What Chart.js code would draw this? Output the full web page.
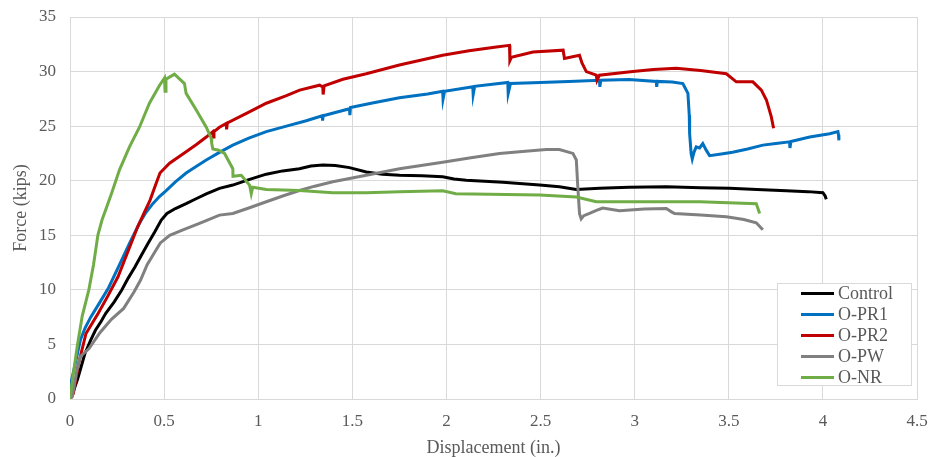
<!DOCTYPE html>
<html>
<head>
<meta charset="utf-8">
<script src="https://cdn.jsdelivr.net/npm/chart.js@4.4.1/dist/chart.umd.min.js"></script>
<style>
  body { margin: 0; background: #fff; }
  #wrap { position: relative; width: 930px; height: 457px; }
  #legend {
    position: absolute; left: 777px; top: 283px; width: 135px; height: 103px;
    border: 1px solid #d9d9d9; background: #fff; box-sizing: border-box;
    font-family: "Liberation Serif", "Times New Roman", serif; font-size: 18px; color: #595959;
  }
  #legend .row { display: flex; align-items: center; height: 21px; }
  #legend .row:first-child { margin-top: -1px; }
  #legend .swatch { width: 33px; height: 3px; margin-left: 23px; margin-right: 4px; }
</style>
</head>
<body>
<div id="wrap">
  <canvas id="chart" width="930" height="457"></canvas>
  <div id="legend"></div>
</div>
<script>
/* Force vs displacement curves */

const seriesNames = ['Control', 'O-PR1', 'O-PR2', 'O-PW', 'O-NR'];
const seriesColors = ['#000000', '#0070C0', '#C00000', '#808080', '#70AD47'];
const xTicks = [0, 0.5, 1, 1.5, 2, 2.5, 3, 3.5, 4, 4.5];
const yTicks = [0, 5, 10, 15, 20, 25, 30, 35];

// [displacement (in.), force (kips)]
const controlPts = [
  [0, 0], [0.02, 0.8], [0.04, 1.8], [0.06, 3.0], [0.08, 4.2], [0.11, 5.4], [0.135, 6.3], [0.165, 7.1],
  [0.19, 7.85], [0.235, 8.9], [0.275, 9.98], [0.31, 11.1], [0.345, 12.1], [0.38, 13.2], [0.415, 14.26],
  [0.45, 15.3], [0.485, 16.4], [0.515, 17.0], [0.56, 17.45], [0.617, 17.9], [0.67, 18.35], [0.724, 18.8],
  [0.794, 19.3], [0.865, 19.6], [0.95, 20.1], [1.043, 20.6], [1.13, 20.9], [1.219, 21.1], [1.28, 21.35],
  [1.343, 21.45], [1.41, 21.4], [1.485, 21.2], [1.574, 20.8], [1.66, 20.6], [1.751, 20.5], [1.87, 20.45],
  [1.98, 20.36], [2.04, 20.15], [2.105, 20.05], [2.3, 19.85], [2.495, 19.6], [2.6, 19.45], [2.69, 19.2],
  [2.813, 19.3], [2.97, 19.4], [3.168, 19.45], [3.35, 19.35], [3.504, 19.3], [3.65, 19.2], [3.806, 19.07],
  [3.92, 19.0], [4.0, 18.9], [4.012, 18.6], [4.018, 18.3]
];

const pr1Pts = [
  [0, 0], [0.008, 1.7], [0.025, 3.0], [0.055, 5.4], [0.08, 6.5], [0.11, 7.5], [0.16, 8.9], [0.205, 10.2],
  [0.26, 12.2], [0.316, 14.26], [0.369, 16.1], [0.4, 17.0], [0.44, 17.9], [0.475, 18.55], [0.511, 19.1],
  [0.56, 19.9], [0.617, 20.7], [0.67, 21.3], [0.724, 21.9], [0.794, 22.6], [0.865, 23.26], [0.95, 23.9],
  [1.043, 24.5], [1.15, 25.0], [1.255, 25.5], [1.34, 25.95], [1.342, 25.5], [1.345, 25.95], [1.485, 26.6],
  [1.487, 26.0], [1.49, 26.7], [1.6, 27.1], [1.75, 27.6], [1.9, 27.95], [1.98, 28.2], [1.982, 27.5],
  [1.99, 28.2], [2.14, 28.6], [2.142, 27.9], [2.15, 28.65], [2.326, 29.0], [2.328, 28.0], [2.34, 28.9],
  [2.46, 28.97], [2.65, 29.1], [2.813, 29.2], [2.815, 28.6], [2.82, 29.2], [2.97, 29.27], [3.115, 29.1],
  [3.117, 28.6], [3.12, 29.1], [3.2, 29.05], [3.256, 28.9], [3.283, 28.0], [3.29, 26.0], [3.292, 24.3],
  [3.3, 22.5], [3.306, 22.0], [3.315, 22.6], [3.327, 23.1], [3.345, 23.0], [3.362, 23.4], [3.38, 22.8],
  [3.398, 22.3], [3.46, 22.45], [3.52, 22.6], [3.6, 22.9], [3.681, 23.26], [3.75, 23.4], [3.823, 23.56],
  [3.825, 23.0], [3.83, 23.6], [3.93, 24.0], [4.036, 24.3], [4.08, 24.5], [4.083, 24.2], [4.085, 23.7]
];

const pr2Pts = [
  [0, 0], [0.018, 0.5], [0.045, 3.2], [0.085, 6.0], [0.15, 7.85], [0.2, 9.4], [0.255, 11.2], [0.31, 13.6],
  [0.36, 15.8], [0.395, 17.1], [0.425, 18.2], [0.452, 19.5], [0.478, 20.7], [0.529, 21.6], [0.617, 22.65],
  [0.67, 23.3], [0.724, 24.0], [0.759, 24.5], [0.762, 24.0], [0.765, 24.5], [0.794, 24.9], [0.83, 25.25],
  [0.832, 24.7], [0.836, 25.3], [0.94, 26.2], [1.043, 27.1], [1.15, 27.8], [1.22, 28.3], [1.326, 28.75],
  [1.343, 28.6], [1.345, 27.9], [1.35, 28.7], [1.45, 29.3], [1.574, 29.8], [1.75, 30.6], [1.98, 31.5],
  [2.12, 31.9], [2.265, 32.26], [2.335, 32.4], [2.337, 31.0], [2.345, 31.3], [2.46, 31.8], [2.62, 31.96],
  [2.627, 31.2], [2.707, 31.5], [2.72, 30.8], [2.743, 30.0], [2.796, 29.67], [2.8, 29.2], [2.813, 29.67],
  [2.99, 30.0], [3.1, 30.2], [3.221, 30.3], [3.35, 30.1], [3.487, 29.8], [3.54, 29.06], [3.628, 29.06],
  [3.673, 28.3], [3.7, 27.4], [3.726, 25.85], [3.738, 24.8]
];

const pwPts = [
  [0, 0], [0.012, 0.2], [0.035, 2.5], [0.055, 3.9], [0.1, 4.6], [0.16, 6.1], [0.22, 7.3], [0.285, 8.3],
  [0.34, 9.8], [0.375, 10.9], [0.41, 12.3], [0.445, 13.3], [0.48, 14.3], [0.53, 15.0], [0.6, 15.5],
  [0.688, 16.1], [0.794, 16.85], [0.865, 17.0], [0.95, 17.5], [1.043, 18.07], [1.13, 18.6], [1.219, 19.1],
  [1.3, 19.5], [1.396, 19.9], [1.574, 20.5], [1.751, 21.1], [1.98, 21.7], [2.13, 22.1], [2.282, 22.5],
  [2.388, 22.65], [2.53, 22.87], [2.6, 22.85], [2.672, 22.5], [2.69, 21.9], [2.698, 19.4], [2.707, 17.0],
  [2.716, 16.5], [2.73, 16.8], [2.76, 17.0], [2.8, 17.3], [2.83, 17.5], [2.92, 17.25], [3.05, 17.4],
  [3.168, 17.46], [3.2, 17.1], [3.212, 17.0], [3.35, 16.85], [3.487, 16.7], [3.58, 16.45], [3.646, 16.15],
  [3.681, 15.5]
];

const nrPts = [
  [0, 0], [0.015, 2.0], [0.04, 5.0], [0.065, 7.6], [0.1, 10.0], [0.125, 12.3], [0.148, 15.0], [0.17, 16.4],
  [0.195, 17.6], [0.222, 18.9], [0.263, 21.0], [0.316, 23.1], [0.369, 24.9], [0.422, 27.1], [0.476, 28.75],
  [0.502, 29.4], [0.505, 28.2], [0.51, 29.3], [0.555, 29.76], [0.608, 28.9], [0.617, 28.0], [0.67, 26.5],
  [0.724, 24.9], [0.75, 23.9], [0.753, 23.4], [0.759, 22.9], [0.79, 22.8], [0.821, 22.5], [0.865, 21.1],
  [0.866, 20.4], [0.91, 20.5], [0.954, 19.6], [0.963, 18.8], [0.971, 19.4], [1.043, 19.2], [1.219, 19.1],
  [1.396, 18.9], [1.574, 18.9], [1.751, 19.0], [1.98, 19.07], [2.05, 18.8], [2.495, 18.7], [2.69, 18.5],
  [2.796, 18.07], [2.97, 18.07], [3.345, 18.07], [3.646, 17.9], [3.664, 17.0]
];

const allPts = [controlPts, pr1Pts, pr2Pts, pwPts, nrPts];

const FONT = '"Liberation Serif", "Times New Roman", serif';
const TEXT = '#595959';
const GRID = '#d9d9d9';

const datasets = seriesNames.map((name, i) => ({
  label: name,
  data: allPts[i].map(p => ({ x: p[0], y: p[1] })),
  borderColor: seriesColors[i],
  backgroundColor: seriesColors[i],
  borderWidth: 3,
  pointRadius: 0,
  showLine: true,
  tension: 0,
  order: seriesNames.length - i, // later series drawn on top, like the original
}));

new Chart(document.getElementById('chart'), {
  type: 'scatter',
  data: { datasets },
  options: {
    responsive: false,
    animation: false,
    devicePixelRatio: 1,
    layout: { padding: { top: 17, right: 13, left: 0, bottom: 0 } },
    plugins: { legend: { display: false }, tooltip: { enabled: false } },
    scales: {
      x: {
        type: 'linear',
        min: 0,
        max: 4.5,
        afterBuildTicks: (s) => { s.ticks = xTicks.map(v => ({ value: v })); },
        afterFit: (s) => {
          s.height = 58;
          s.paddingLeft = 0; s.paddingRight = 0;
        },
        grid: { color: GRID, lineWidth: 1, drawTicks: false },
        border: { color: GRID },
        ticks: { color: TEXT, font: { family: FONT, size: 17 }, padding: 12, callback: (v) => String(v) },
        title: {
          display: true, text: 'Displacement (in.)', color: TEXT,
          font: { family: FONT, size: 18, lineHeight: 1 }, padding: { top: 0, bottom: 0 },
        },
      },
      y: {
        min: 0,
        max: 35,
        afterBuildTicks: (s) => { s.ticks = yTicks.map(v => ({ value: v })); },
        afterFit: (s) => {
          s.width = 70;
          s.paddingTop = 0; s.paddingBottom = 0;
        },
        grid: { color: GRID, lineWidth: 1, drawTicks: false },
        border: { color: GRID },
        ticks: { color: TEXT, font: { family: FONT, size: 17 }, padding: 14, callback: (v) => String(v) },
        title: {
          display: true, text: 'Force (kips)', color: TEXT,
          font: { family: FONT, size: 18, lineHeight: 1 }, padding: { top: 12, bottom: 0 },
        },
      },
    },
  },
});

// Legend box inside the plot, bottom right
const legend = document.getElementById('legend');
legend.innerHTML = seriesNames.map((name, i) => `
  <div class="row"><span class="swatch" style="background:${seriesColors[i]}"></span><span>${name}</span></div>
`).join('');
</script>
</body>
</html>
